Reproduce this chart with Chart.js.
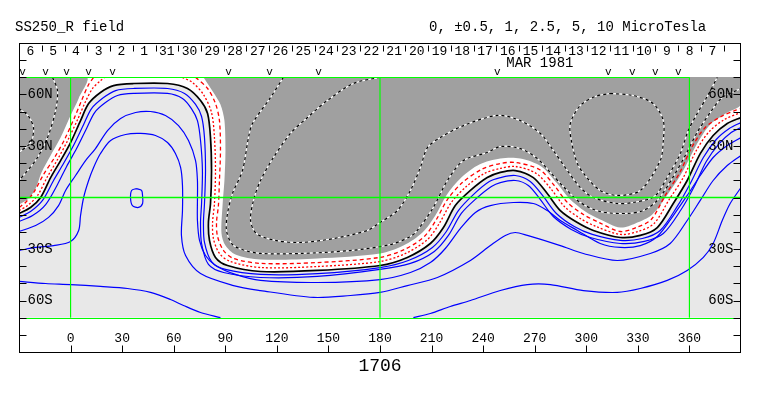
<!DOCTYPE html>
<html>
<head>
<meta charset="utf-8">
<script src="https://cdn.jsdelivr.net/npm/chart.js@4.4.1/dist/chart.umd.min.js"></script>
<style>
html,body{margin:0;padding:0;background:#fff}
#wrap{width:763px;height:396px}
</style>
</head>
<body>
<div id="wrap"><canvas id="c" width="763" height="396"></canvas></div>
<script>
/* SS250_R field, Carrington rotation 1706 - synoptic contour map */

// axes
const lonTicks = [0,30,60,90,120,150,180,210,240,270,300,330,360];
const latTicks = [-80,-70,-60,-50,-40,-30,-20,-10,0,10,20,30,40,50,60,70,80];
const latLabelVals = [60,30,-30,-60];
const latLabelText = ['60N','30N','30S','60S'];
const dayLabels = ['6','5','4','3','2','1','31','30','29','28','27','26','25','24','23','22',
  '21','20','19','18','17','16','15','14','13','12','11','10','9','8','7'];
const dayLon0 = -23.3, dayStep = 13.22;
const markLons = [-27.9,-14.5,-2.3,10.5,24.4,91.9,115.7,144.2,248.3,312.8,326.7,340.1,353.5];
const gridLons = [0,180,360];
const mapTop = 70, mapBottom = -70;

// contour lines, [lon, lat]
const zeroLine = [[-30,-9.3],[-23.3,-5.8],[-17.4,0],[-11.6,11.6],[-5.8,21.5],[0,32],[5.8,44.8],[10.5,54.7],[17.4,61.2],[25,65.2],[36.6,66.4],[56.4,66.4],[68,63.5],[75.6,56.5],[79.7,48.9],[81.4,34.9],[82,15.7],[81.4,-3.5],[80.2,-14.6],[80.8,-25],[84.3,-34.9],[91.3,-39.6],[110.5,-43.1],[143.6,-42.5],[180,-39.6],[195.9,-34.9],[209.3,-26.8],[216.9,-17.5],[223.8,-4.7],[232.6,4.1],[242.4,11.6],[250,14.6],[258.7,15.7],[269.2,11.6],[277.3,2.3],[284.9,-7.6],[294.8,-14.6],[304.1,-19.2],[319.8,-23.3],[331.4,-22.1],[341.3,-17.5],[350.6,-3.5],[358.7,9.9],[366.3,25.6],[373.8,36.1],[382,43.1],[390,46.6]];

const pos1 = [[-30,-11.6],[-23.3,-8.2],[-16.3,-1.7],[-9.9,9.9],[-4.1,19.8],[1.7,30.3],[7.6,42.5],[12.2,51.8],[19.2,58.2],[26.2,62.3],[36.6,63.5],[56.4,63.5],[66.3,60.6],[72.7,54.2],[76.2,47.2],[77.9,34.9],[78.5,15.7],[77.9,-3.5],[77.3,-14.6],[77.9,-26.2],[82,-37.3],[90.1,-41.9],[110.5,-44.8],[143.6,-44.3],[180,-40.8],[196.5,-36.7],[210.5,-29.1],[218.6,-19.8],[225.6,-7.6],[234.3,1.7],[243.6,9.3],[250,11.6],[258.7,12.8],[267.4,9.3],[275,0.6],[282.6,-9.3],[293,-16.9],[303.5,-21.5],[319.8,-25],[332.6,-23.9],[343,-19.2],[352.9,-5.2],[360.5,8.2],[368.1,23.3],[375.6,33.8],[383.2,40.2],[390,43.7]];

const pos2 = [[-30,-14],[-22.1,-10.5],[-14.5,-4.1],[-7.6,7.6],[-2.3,18.1],[3.5,28.5],[9.3,40.2],[14,49.5],[20.3,55.3],[27.3,59.4],[36.6,60.6],[56.4,60.6],[65.1,57.7],[70.3,51.8],[73.8,44.8],[75.6,33.2],[76.7,15.7],[76.2,-3.5],[75.6,-14.6],[76.2,-26.8],[80.2,-39],[89,-43.7],[110.5,-46.6],[143.6,-46],[180,-41.9],[197.7,-38.4],[211.6,-31.4],[219.8,-22.1],[227.3,-9.3],[236,-0.6],[244.8,6.4],[250,8.7],[258.7,9.9],[266.3,7],[273.3,-1.2],[280.8,-11.1],[291.3,-18.6],[302.3,-23.3],[319.8,-26.8],[333.8,-25.6],[344.8,-21],[355.2,-7],[362.8,6.4],[369.8,21],[377.3,31.4],[384.3,37.9],[390,40.8]];

const pos3 = [[-30,-19.8],[-20.3,-16.3],[-12.8,-11.6],[-7,-4.7],[-2.9,4.1],[2.9,12.8],[8.7,21.5],[14.5,28.5],[21.5,39],[29.1,46],[37.8,49.5],[46.5,50.1],[55.2,47.8],[62.8,41.9],[68.6,33.2],[72.7,21.5],[73.8,9.9],[73.8,-1.7],[73.8,-13.4],[75,-25],[78.5,-33.8],[84.3,-39.6],[95.9,-44.8],[110.5,-48.3],[143.6,-49.5],[180,-47.8],[197.7,-43.7],[209.3,-37.9],[218,-29.7],[226.7,-18.1],[235.5,-8.7],[244.2,-4.7],[257.6,-2.9],[269.2,-3.5],[277.3,-7.6],[284.9,-13.4],[294.8,-19.2],[308.1,-26.8],[319.8,-29.1],[331.4,-28],[341.3,-22.7],[350.6,-10.5],[358.7,1.2],[366.3,12.8],[373.8,23.3],[382,30.3],[390,34.9]];

const pos4 = [[-30,-30.9],[-20.3,-29.1],[-9.9,-28],[0,-25.6],[4.7,-19.2],[5.8,-10.5],[7.6,0],[10.5,9.9],[13.4,17.5],[17.4,25.6],[23.3,33.2],[32,36.7],[40.7,37.3],[49.4,36.1],[56.4,32],[61,25.6],[64,17.5],[65.1,7],[65.1,-7.6],[64.5,-22.1],[66.9,-33.8],[75.6,-44.3],[94.8,-51.3],[110.5,-54.2],[141.3,-58.2],[162.8,-57.1],[180,-55.3],[195.9,-51.3],[213.4,-46.6],[232.6,-36.7],[244.2,-28],[252.9,-22.1],[258.7,-20.4],[265.7,-22.1],[284.9,-28],[298.3,-32.6],[318,-36.7],[337.2,-32.6],[348.8,-26.8],[358.7,-13.4],[366.3,-1.7],[373.8,9.9],[382,18.6],[390,24.5]];

const pos5a = [[-30,-48.9],[-14.5,-50.1],[0,-50.7],[17.4,-51.8],[33.1,-53],[46.5,-55.3],[58.1,-59.4],[65.7,-62.9],[75.6,-67],[87.2,-70]];
const pos5b = [[199.4,-70],[209.3,-67.6],[220.9,-63.5],[232.6,-60],[250,-54.2],[265.7,-50.7],[279.1,-50.7],[298.3,-54.2],[318,-55.3],[331.4,-53],[347.1,-48.3],[358.7,-42.5],[368.1,-34.9],[373.8,-26.8],[379.1,-13.4],[383.7,-3.5],[390,5.8]];
const posSpot = [[38.4,5.2],[41.3,4.1],[41.9,0.6],[41.9,-3.5],[39.5,-5.8],[36,-4.7],[34.9,-0.6],[35.5,4.1],[38.4,5.2]];

const neg05a = [[-30,-7.6],[-25,-4.7],[-19.2,1.2],[-13.4,12.2],[-7.6,22.1],[-1.7,33.2],[4.1,45.4],[8.7,55.9],[12.8,63.5],[17.4,68.1],[19.8,70]];
const neg05b = [[65.1,70],[70.9,67],[77.3,60],[82,49.5],[83.7,34.9],[84.3,15.7],[83.7,-3.5],[82.6,-14.6],[83.1,-23.9],[86.6,-32.6],[93,-37.3],[110.5,-40.8],[143.6,-40.2],[180,-37.3],[194.8,-32.6],[207.6,-24.5],[214.5,-15.1],[221.5,-2.9],[230.2,6.4],[240.7,14],[250,16.9],[258.7,18.1],[270.9,14],[279.7,4.7],[287.2,-5.2],[296.5,-12.2],[305.8,-16.9],[319.8,-21.5],[330.2,-19.8],[339.5,-15.1],[348.2,-1.2],[356.4,11.6],[364,27.4],[371.5,38.4],[380.3,45.4],[390,49.5]];
const neg1a = [[-30,-5.8],[-26.2,-2.9],[-21.5,2.9],[-15.7,13.4],[-9.3,23.3],[-3.5,33.8],[2.3,46.6],[6.4,56.5],[10.5,65.8],[13.4,70]];
const neg1b = [[72.7,70],[79.7,63.5],[84.3,54.7],[86.6,44.8],[87.2,27.4],[86.6,9.9],[86,-4.7],[84.9,-14.6],[85.5,-22.7],[89,-30.9],[94.8,-35.5],[110.5,-38.4],[143.6,-37.9],[180,-34.9],[194.2,-30.3],[205.8,-22.7],[212.8,-12.8],[219.2,-1.2],[227.9,8.7],[239,16.3],[250,19.8],[258.7,20.4],[272.7,16.3],[281.4,7],[289,-2.9],[298.3,-9.9],[307.5,-14.6],[319.8,-19.8],[329.1,-17.5],[337.8,-12.8],[345.9,1.2],[354.1,14],[361.6,29.7],[369.2,40.8],[378.5,47.2],[386.6,50.7],[390,51.8]];

// edge of the strong negative (shaded) regions
const darkA = [[-30,70],[9.3,70],[4.7,57.7],[0,47.8],[-5.8,34.9],[-11.6,24.5],[-16.9,14.6],[-20.3,5.2],[-24.4,-0.6],[-30,-4.1]];
const darkB = [[77.3,70],[390,70],[390,54.2],[382,49.5],[372.1,42.5],[364.5,31.4],[356.4,15.7],[347.7,2.3],[338.4,-9.9],[328.5,-15.1],[319.8,-17.5],[308.1,-12.8],[299.4,-8.2],[290.1,-0.6],[282.6,8.7],[273.8,18.1],[261.6,22.7],[250,22.7],[237.8,19.2],[227.3,11.6],[218.6,1.2],[212.2,-10.5],[204.7,-20.4],[193.6,-28],[180,-32.6],[143.6,-35.5],[110.5,-36.1],[95.9,-33.2],[90.1,-28],[87.8,-21],[88.4,-4.7],[89.5,9.9],[90.1,27.4],[89.5,44.8],[87.2,54.2],[83.1,61.2]];

const negA = [[-10.5,70],[-7.6,62.3],[-8.7,50.7],[-13.4,34.9],[-19.2,23.3],[-25,15.7],[-30,9.9]];
const negB = [[-30,51.8],[-24.4,47.2],[-21.5,40.2],[-23.3,32],[-30,26.2]];
const negC = [[123.8,70],[116.3,58.2],[105.8,43.1],[103.5,34.9],[100,15.7],[94.2,2.3],[91.3,-9.3],[90.7,-19.2],[94.2,-27.4],[101.7,-30.9],[110.5,-32.6],[133.7,-32.6],[162.8,-30.9],[186,-27.4],[197.7,-22.7],[201.7,-19.2],[211,-5.8],[219.2,9.9],[228.5,21.5],[242.4,26.2],[250,29.7],[261.6,28.5],[271.5,22.7],[279.1,14.6],[286.6,6.4],[296.5,-2.9],[308.1,-8.2],[323.8,-9.3],[333.1,-7.6],[341.3,-1.7],[350,11.1],[357.6,24.5],[364.5,37.9],[372.1,49.5],[379.1,58.2],[390,63.5]];
const negD = [[180,70],[164.5,66.4],[149.4,56.5],[137.8,46.6],[127.9,37.3],[118,23.3],[110.5,9.9],[106.4,-1.7],[104.7,-13.4],[108.1,-21],[119.2,-25],[133.7,-26.2],[152.9,-23.9],[172.7,-19.2],[180,-14.6],[190.1,-7.6],[197.7,4.1],[203.5,17.5],[207.6,29.1],[215.1,34.9],[228.5,41.9],[248.3,47.8],[261.6,44.8],[273.3,37.3],[280.8,27.4],[289,15.7],[296.5,5.8],[304.1,0],[318,-3.5],[327.3,-2.9],[337.2,-0.6],[341.3,2.3],[347.1,11.6],[354.7,25.6],[359.3,39],[364.5,48.9],[370.3,58.8],[376.2,70]];
const negOval = [[314,60.6],[327.3,59.4],[338.9,54.7],[344.8,44.8],[344.8,33.2],[343,21.5],[331.4,4.1],[318,1.2],[308.1,4.1],[299.4,12.8],[294.8,19.8],[291.3,33.2],[290.7,43.1],[296.5,53.6],[305.2,58.8],[314,60.6]];

const BLUE = '#0000ff', RED = '#ff0000', GREEN = '#00ff00';
const DARK = '#a0a0a0', LIGHT = '#e8e8e8';

function pts(a){ return a.map(p => ({x: p[0], y: p[1]})); }
function line(a, color, width, dash, order, tension){
  return {data: pts(a), borderColor: color, borderWidth: width, borderDash: dash || [],
    pointRadius: 0, fill: false, order: order, tension: tension === undefined ? 0.3 : tension};
}
function area(a, color, order){
  return {data: pts(a), borderColor: 'rgba(0,0,0,0)', borderWidth: 0, backgroundColor: color,
    pointRadius: 0, fill: 'shape', order: order, tension: 0.3};
}

const datasets = [];
datasets.push(area(zeroLine.concat([[390,70],[-30,70]]), '#ffffff', 100));
datasets.push(area(darkA, DARK, 90));
datasets.push(area(darkB, DARK, 90));
[negA, negB, negC, negD, negOval].forEach(a => {
  datasets.push(line(a, '#ffffff', 1.2, null, 41));
  datasets.push(line(a, '#000000', 1.2, [3,3], 40));
});
[pos1, pos2, pos3, pos4, pos5a, pos5b, posSpot].forEach(a => datasets.push(line(a, BLUE, 1.2, null, 20)));
[neg05a, neg05b].forEach(a => datasets.push(line(a, RED, 1.3, [2,2], 15)));
[neg1a, neg1b].forEach(a => datasets.push(line(a, RED, 1.3, [4,3], 15)));
datasets.push(line(zeroLine, '#000000', 1.7, null, 10));
gridLons.forEach(l => datasets.push(line([[l,mapBottom],[l,mapTop]], GREEN, 1.2, null, 5, 0)));
datasets.push(line([[-30,0],[390,0]], GREEN, 1.5, null, 5, 0));

const MONO = '"Liberation Mono","DejaVu Sans Mono",monospace';

function txt(ctx, s, px, py, size, align){
  ctx.font = size + 'px ' + MONO;
  ctx.textAlign = align || 'center';
  ctx.textBaseline = 'middle';
  ctx.fillText(s, px, py);
}

const decor = {
  id: 'decor',
  beforeDatasetsDraw(chart){
    const {ctx, chartArea: a, scales: {y}} = chart;
    const t = y.getPixelForValue(mapTop), b = y.getPixelForValue(mapBottom);
    ctx.save();
    ctx.fillStyle = LIGHT;
    ctx.fillRect(a.left, t, a.right - a.left, b - t);
    ctx.restore();
  },
  afterDatasetsDraw(chart){
    const {ctx, chartArea: a, scales: {x, y}} = chart;
    const t = Math.round(y.getPixelForValue(mapTop)) + 0.5;
    const b = Math.round(y.getPixelForValue(mapBottom)) + 0.5;
    const L = Math.round(a.left) + 0.5, R = Math.round(a.right) - 0.5;
    const T = Math.round(a.top) + 0.5, B = Math.round(a.bottom) + 0.5;
    ctx.save();
    // keep the strips outside the map clean
    ctx.fillStyle = '#ffffff';
    ctx.fillRect(a.left, a.top, a.right - a.left, t - 0.5 - a.top);
    ctx.fillRect(a.left, b + 0.5, a.right - a.left, a.bottom - b - 0.5);
    // map border
    ctx.strokeStyle = GREEN; ctx.lineWidth = 1.2;
    ctx.beginPath();
    ctx.moveTo(L, t); ctx.lineTo(Math.round(x.getPixelForValue(360)) + 0.5, t);
    ctx.moveTo(L, b); ctx.lineTo(R, b);
    ctx.stroke();
    // frame
    ctx.strokeStyle = '#000'; ctx.lineWidth = 1;
    ctx.strokeRect(L, T, R - L, B - T);
    ctx.fillStyle = '#000';
    ctx.beginPath();
    latTicks.forEach(v => {
      const py = Math.round(y.getPixelForValue(v)) + 0.5;
      ctx.moveTo(L, py); ctx.lineTo(L + 7, py);
      ctx.moveTo(R, py); ctx.lineTo(R - 7, py);
    });
    lonTicks.forEach(v => {
      const px = Math.round(x.getPixelForValue(v)) + 0.5;
      ctx.moveTo(px, B); ctx.lineTo(px, B - 7);
    });
    dayLabels.forEach((d, i) => {
      const px = Math.round(x.getPixelForValue(dayLon0 + (i + 0.5) * dayStep)) + 0.5;
      if (px < R - 2) { ctx.moveTo(px, T + 2); ctx.lineTo(px, T + 8); }
    });
    ctx.stroke();
    latLabelVals.forEach((v, i) => {
      const py = y.getPixelForValue(v);
      txt(ctx, latLabelText[i], L + 8, py, 14, 'left');
      txt(ctx, latLabelText[i], R - 7, py, 14, 'right');
    });
    lonTicks.forEach(v => txt(ctx, String(v), x.getPixelForValue(v), B - 14, 13));
    dayLabels.forEach((d, i) => txt(ctx, d, x.getPixelForValue(dayLon0 + i * dayStep), T + 8, 13));
    txt(ctx, 'MAR 1981', x.getPixelForValue(273), T + 20, 14);
    markLons.forEach(v => txt(ctx, 'v', x.getPixelForValue(v), t - 5, 11));
    txt(ctx, '1706', x.getPixelForValue(180), B + 14, 18);
    txt(ctx, 'SS250_R field', 15, 27, 14, 'left');
    txt(ctx, '0, \u00b10.5, 1, 2.5, 5, 10 MicroTesla', 429, 27, 14, 'left');
    ctx.restore();
  }
};

new Chart(document.getElementById('c'), {
  type: 'line',
  data: {datasets: datasets},
  options: {
    responsive: false,
    devicePixelRatio: 1,
    animation: false,
    events: [],
    layout: {padding: {left: 19, top: 43, right: 22, bottom: 44}},
    scales: {
      x: {type: 'linear', min: -30, max: 390, display: false},
      y: {type: 'linear', min: -90, max: 90, display: false}
    },
    plugins: {legend: {display: false}, tooltip: {enabled: false}}
  },
  plugins: [decor]
});
</script>
</body>
</html>
